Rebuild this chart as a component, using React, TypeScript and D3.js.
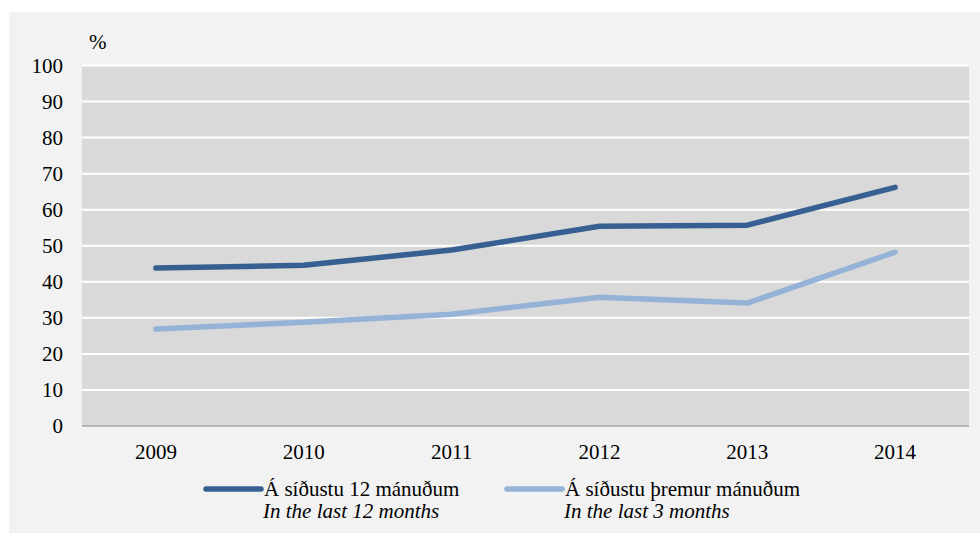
import React from "react";
import * as d3 from "d3";

const years = ["2009", "2010", "2011", "2012", "2013", "2014"];
const last12 = [43.8, 44.6, 48.8, 55.4, 55.7, 66.2];
const last3 = [26.9, 28.8, 31.0, 35.7, 34.1, 48.2];
const yTicks = [0, 10, 20, 30, 40, 50, 60, 70, 80, 90, 100];
const legendMain = ["Á síðustu 12 mánuðum", "Á síðustu þremur mánuðum"];
const legendSub = ["In the last 12 months", "In the last 3 months"];

const DARK = "#376092";
const LIGHT = "#95b3d7";
const FONT = "'Liberation Serif', 'Times New Roman', serif";

export default function App() {
  const W = 980, H = 534;
  const left = 82, right = 969, top = 65.5, bottom = 426;
  const x = d3.scaleBand<string>().domain(years).range([left, right]);
  const y = d3.scaleLinear().domain([0, 100]).range([bottom, top]);
  const line = d3.line<number>()
    .x((_, i) => (x(years[i]) as number) + x.bandwidth() / 2)
    .y((d) => y(d))
    .curve(d3.curveLinear);
  const series = [
    { data: last12, color: DARK },
    { data: last3, color: LIGHT },
  ];
  const legendX = [206, 507];
  const legendLen = [55, 55];
  return (
    <svg width={W} height={H} style={{ position: "absolute", left: 0, top: 0 }} fontFamily={FONT}>
      <rect x={9} y={12} width={971} height={521} fill="#f2f2f2" />
      <rect x={left} y={top} width={right - left} height={bottom - top} fill="#d9d9d9" />
      {yTicks.filter((t) => t > 0).map((t) => (
        <line key={t} x1={left} x2={right} y1={y(t)} y2={y(t)} stroke="#ffffff" strokeWidth={2} />
      ))}
      <line x1={left} x2={right} y1={y(0)} y2={y(0)} stroke="#868686" strokeWidth={1.2} />
      {yTicks.map((t) => (
        <text key={t} x={63} y={y(t)} dy="0.35em" textAnchor="end" fontSize={21} fill="#000">{t}</text>
      ))}
      <text x={89} y={49} fontSize={21} fill="#000">%</text>
      {years.map((yr) => (
        <text key={yr} x={(x(yr) as number) + x.bandwidth() / 2} y={459} textAnchor="middle" fontSize={21} fill="#000">{yr}</text>
      ))}
      {series.map((s, i) => (
        <path key={i} d={line(s.data) || ""} fill="none" stroke={s.color} strokeWidth={5.5} strokeLinecap="round" strokeLinejoin="round" />
      ))}
      {series.map((s, i) => (
        <g key={i}>
          <line x1={legendX[i]} x2={legendX[i] + legendLen[i]} y1={489} y2={489} stroke={s.color} strokeWidth={5.5} strokeLinecap="round" />
          <text x={legendX[i] + 58} y={496} fontSize={21} fill="#000">{legendMain[i]}</text>
          <text x={legendX[i] + 57} y={518} fontSize={21} fontStyle="italic" fill="#000">{legendSub[i]}</text>
        </g>
      ))}
    </svg>
  );
}
